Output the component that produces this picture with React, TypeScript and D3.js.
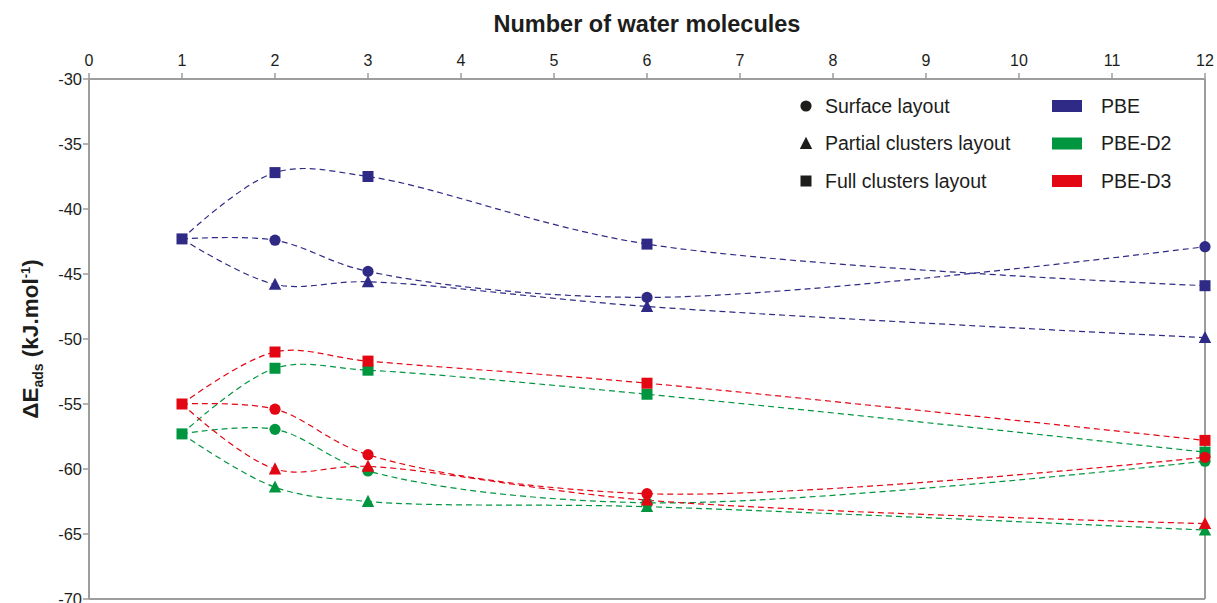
import React from "react";
import * as d3 from "d3";

const waters = [1, 2, 3, 6, 12];
const xTicks = [0, 1, 2, 3, 4, 5, 6, 7, 8, 9, 10, 11, 12];
const yTicks = [-30, -35, -40, -45, -50, -55, -60, -65, -70];

// PBE
const pbeSurface = [-42.3, -42.4, -44.8, -46.8, -42.9];
const pbePartial = [-42.3, -45.8, -45.6, -47.5, -49.9];
const pbeFull = [-42.3, -37.2, -37.5, -42.7, -45.9];
// PBE-D2
const d2Surface = [-57.3, -56.95, -60.15, -62.6, -59.4];
const d2Partial = [-57.3, -61.4, -62.5, -62.9, -64.7];
const d2Full = [-57.3, -52.25, -52.4, -54.25, -58.7];
// PBE-D3
const d3Surface = [-55.0, -55.4, -58.9, -61.9, -59.1];
const d3Partial = [-55.0, -60.0, -59.8, -62.4, -64.2];
const d3Full = [-55.0, -51.0, -51.7, -53.4, -57.8];

const methods = ["PBE", "PBE-D2", "PBE-D3"];
const methodColors = ["#2e2a85", "#009640", "#e30613"];
const layouts = ["Surface layout", "Partial clusters layout", "Full clusters layout"];

const seriesData = [
  { method: 0, layout: 0, values: pbeSurface },
  { method: 0, layout: 1, values: pbePartial },
  { method: 0, layout: 2, values: pbeFull },
  { method: 1, layout: 0, values: d2Surface },
  { method: 1, layout: 1, values: d2Partial },
  { method: 1, layout: 2, values: d2Full },
  { method: 2, layout: 0, values: d3Surface },
  { method: 2, layout: 1, values: d3Partial },
  { method: 2, layout: 2, values: d3Full },
];

const W = 1217;
const H = 603;
const L = 89, R = 1205, T = 79, B = 599;
const FONT = "'Liberation Sans', Arial, Helvetica, sans-serif";
const AXIS = "#9d9d9c";
const TXT = "#1d1d1b";

function Marker({ shape, x, y, color }: { shape: number; x: number; y: number; color: string }) {
  if (shape === 0) return <circle cx={x} cy={y} r={5.6} fill={color} />;
  if (shape === 1) {
    const s = 6.2;
    return <path d={`M${x},${y - s - 0.5}L${x + s},${y + s - 0.8}L${x - s},${y + s - 0.8}Z`} fill={color} />;
  }
  return <rect x={x - 5.5} y={y - 5.5} width={11} height={11} fill={color} />;
}

export default function App() {
  const x = d3.scaleLinear().domain([0, 12]).range([L, R]);
  const y = d3.scaleLinear().domain([-30, -70]).range([T, B]);
  const line = d3
    .line<number>()
    .x((_, i) => x(waters[i]))
    .y((v) => y(v))
    .curve(d3.curveCatmullRom.alpha(0.5));

  const legendRows = [106, 143.5, 181];

  return (
    <svg
      width={W}
      height={H}
      style={{ position: "absolute", left: 0, top: 0, background: "#fff" }}
      fontFamily={FONT}
    >
      {/* frame */}
      <line x1={L} x2={R} y1={T} y2={T} stroke={AXIS} strokeWidth={2} />
      <line x1={L} x2={R} y1={B} y2={B} stroke={AXIS} strokeWidth={2} />
      <line x1={L} x2={L} y1={T} y2={B} stroke={AXIS} strokeWidth={2} />
      <line x1={R} x2={R} y1={T} y2={B} stroke={AXIS} strokeWidth={2} />

      {/* top x ticks */}
      {xTicks.map((t) => (
        <g key={"x" + t}>
          <line x1={x(t)} x2={x(t)} y1={T} y2={T - 6} stroke={AXIS} strokeWidth={1.5} />
          <text x={x(t)} y={66} textAnchor="middle" fontSize={16} fill={TXT}>
            {t}
          </text>
        </g>
      ))}
      {/* y ticks */}
      {yTicks.map((t) => (
        <g key={"y" + t}>
          <line x1={L - 6} x2={L} y1={y(t)} y2={y(t)} stroke={AXIS} strokeWidth={1.5} />
          <text x={82} y={y(t) + 5.5} textAnchor="end" fontSize={16.5} fill={TXT}>
            {t}
          </text>
        </g>
      ))}

      {/* titles */}
      <text x={647} y={32} textAnchor="middle" fontSize={23.5} fontWeight="bold" fill={TXT}>
        Number of water molecules
      </text>
      <text
        transform={`translate(38,339) rotate(-90)`}
        textAnchor="middle"
        fontSize={22.5}
        fontWeight="bold"
        fill={TXT}
      >
        ΔE
        <tspan fontSize={14} dy={5}>ads</tspan>
        <tspan dy={-5}> (kJ.mol</tspan>
        <tspan fontSize={13} dy={-8}>-1</tspan>
        <tspan dy={8}>)</tspan>
      </text>

      {/* lines */}
      {seriesData.map((s, i) => (
        <path
          key={"l" + i}
          d={line(s.values) || ""}
          fill="none"
          stroke={methodColors[s.method]}
          strokeWidth={1.2}
          strokeDasharray="6,4"
        />
      ))}
      {/* markers */}
      {seriesData.map((s, i) =>
        s.values.map((v, j) =>
          j === 0 && s.layout !== 2 ? null : (
            <Marker key={`m${i}-${j}`} shape={s.layout} x={x(waters[j])} y={y(v)} color={methodColors[s.method]} />
          )
        )
      )}

      {/* legend */}
      {layouts.map((name, i) => (
        <g key={"lg" + i}>
          <Marker shape={i} x={806} y={legendRows[i]} color="#1d1d1b" />
          <text x={825} y={legendRows[i] + 6.5} fontSize={19.5} fill={TXT}>
            {name}
          </text>
        </g>
      ))}
      {methods.map((name, i) => (
        <g key={"lm" + i}>
          <rect x={1052} y={legendRows[i] - 6} width={30} height={12} fill={methodColors[i]} />
          <text x={1101} y={legendRows[i] + 6.5} fontSize={19.5} fill={TXT}>
            {name}
          </text>
        </g>
      ))}
    </svg>
  );
}
